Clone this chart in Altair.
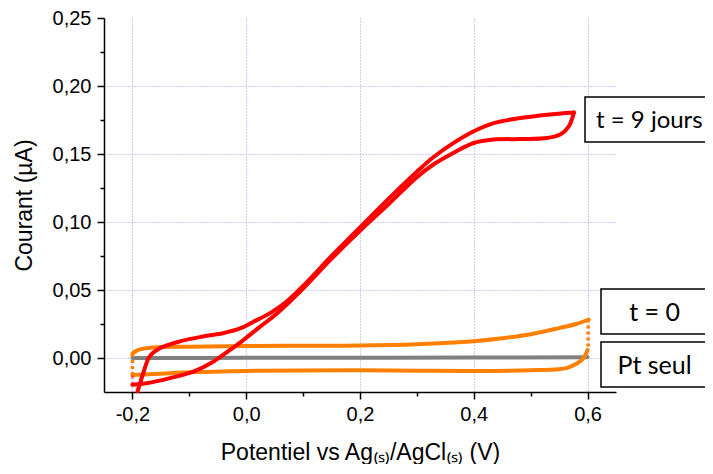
import altair as alt
import pandas as pd

# ---------------- data ----------------
red_fwd_x = [-0.191, -0.181, -0.170, -0.152, -0.117, -0.076, -0.041, -0.011, 0.012, 0.042,
             0.071, 0.100, 0.150, 0.200, 0.250, 0.300, 0.330, 0.364, 0.400, 0.435,
             0.482, 0.529, 0.576]
red_fwd_y = [-0.0245, -0.0112, 0.0010, 0.0071, 0.0122, 0.0158, 0.0182, 0.0217, 0.0265, 0.0330,
             0.0415, 0.0530, 0.0750, 0.0960, 0.1170, 0.1370, 0.1480, 0.1580, 0.1667, 0.1727,
             0.1764, 0.1789, 0.1805]

red_ret_x = [0.576, 0.567, 0.552, 0.529, 0.482, 0.435, 0.400, 0.364, 0.329, 0.300,
             0.250, 0.200, 0.150, 0.100, 0.054, 0.024, -0.005, -0.029, -0.058, -0.093,
             -0.134, -0.175, -0.200]
red_ret_y = [0.1805, 0.1703, 0.1643, 0.1618, 0.1610, 0.1606, 0.1581, 0.1508, 0.1423, 0.1330,
             0.1130, 0.0935, 0.0730, 0.0510, 0.0327, 0.0229, 0.0132, 0.0058, -0.0027, -0.0100,
             -0.0148, -0.0185, -0.0197]
red_end_x = [-0.200, -0.200]
red_end_y = [-0.0197, -0.0110]

orange_fwd_x = [-0.200, -0.196, -0.187, -0.164, -0.100, 0.000, 0.100, 0.200, 0.300, 0.400,
                0.450, 0.500, 0.550, 0.580, 0.602]
orange_fwd_y = [0.0030, 0.0046, 0.0064, 0.0078, 0.0083, 0.0088, 0.0090, 0.0092, 0.0102, 0.0124,
                0.0145, 0.0175, 0.0220, 0.0250, 0.0283]
orange_ret_x = [0.600, 0.593, 0.582, 0.564, 0.550, 0.500, 0.400, 0.300, 0.200, 0.100,
                0.000, -0.100, -0.150, -0.190, -0.200]
orange_ret_y = [0.0058, 0.0000, -0.0039, -0.0072, -0.0082, -0.0090, -0.0095, -0.0093, -0.0090, -0.0091,
                -0.0095, -0.0105, -0.0115, -0.0123, -0.0125]
orange_right_x = [0.601, 0.601]
orange_right_y = [0.0283, 0.0058]
orange_left_x = [-0.200, -0.200]
orange_left_y = [-0.0125, 0.0030]

gray_x = [-0.200, 0.000, 0.200, 0.400, 0.600]
gray_y = [0.0000, 0.0001, 0.0002, 0.0003, 0.0005]

x_ticks = [-0.2, -0.1, 0.0, 0.1, 0.2, 0.3, 0.4, 0.5, 0.6]
y_ticks = [0.0, 0.025, 0.05, 0.075, 0.1, 0.125, 0.15, 0.175, 0.2, 0.225, 0.25]
box_labels = ["t = 9 jours", "t = 0", "Pt seul"]

RED = "#ff0000"
ORANGE = "#ff8000"
GRAY = "#808080"
FONT = "Liberation Sans"

x_scale = alt.Scale(domain=[-0.25, 0.65], nice=False, zero=False)
y_scale = alt.Scale(domain=[-0.025, 0.25], nice=False, zero=False)


def frame(xs, ys):
    return pd.DataFrame({"x": xs, "y": ys, "i": list(range(len(xs)))})


minor_y = "abs(datum.value*20 - round(datum.value*20)) > 0.01"
minor_x = "abs(datum.value*5 - round(datum.value*5)) > 0.01"

x_axis = alt.Axis(
    values=x_ticks,
    title="Potentiel vs Ag₍ₛ₎/AgCl₍ₛ₎ (V)",
    labelExpr=f"{minor_x} ? '' : replace(replace(format(datum.value, '.1f'), '.', ','), '\u2212', '-')",
    grid=True,
    gridColor="#9a9aee",
    gridDash=[1, 2],
    gridWidth=1,
    gridOpacity={"condition": {"test": minor_x, "value": 0}, "value": 1},
    tickSize={"condition": {"test": minor_x, "value": 4}, "value": 7},
    tickColor="black",
    tickWidth=1.5,
    domainColor="black",
    domainWidth=1.5,
    labelFont=FONT,
    labelFontSize=20,
    labelColor="black",
    labelPadding=5,
    labelFlush=False,
    labelOverlap=False,
    titleFont=FONT,
    titleFontSize=23,
    titleFontWeight="normal",
    titleColor="black",
    titlePadding=17,
)

y_axis = alt.Axis(
    values=y_ticks,
    title="Courant (µA)",
    labelExpr=f"{minor_y} ? '' : replace(format(datum.value, '.2f'), '.', ',')",
    grid=True,
    gridColor="#9a9aee",
    gridDash=[1, 2],
    gridWidth=1,
    gridOpacity={"condition": {"test": f"{minor_y} || datum.value > 0.24", "value": 0}, "value": 1},
    tickSize={"condition": {"test": minor_y, "value": 4}, "value": 7},
    tickColor="black",
    tickWidth=1.5,
    domainColor="black",
    domainWidth=1.5,
    labelFont=FONT,
    labelFontSize=20,
    labelColor="black",
    labelPadding=6,
    labelFlush=False,
    labelOverlap=False,
    titleFont=FONT,
    titleFontSize=23,
    titleFontWeight="normal",
    titleColor="black",
    titlePadding=16,
)


def line_layer(xs, ys, color, dash=None, width=4, opacity=1.0):
    kw = dict(color=color, strokeWidth=width, interpolate="catmull-rom",
              strokeCap="round", strokeJoin="round", opacity=opacity)
    if dash:
        kw["strokeDash"] = dash
        kw["strokeCap"] = "butt"
    return alt.Chart(frame(xs, ys)).mark_line(**kw).encode(
        x=alt.X("x:Q", scale=x_scale, axis=x_axis),
        y=alt.Y("y:Q", scale=y_scale, axis=y_axis),
        order=alt.Order("i:Q"),
    )


layers = [
    line_layer(gray_x, gray_y, GRAY),
    line_layer(orange_fwd_x, orange_fwd_y, ORANGE),
    line_layer(orange_ret_x, orange_ret_y, ORANGE),
    line_layer(orange_right_x, orange_right_y, ORANGE, dash=[3, 3], width=3.5),
    line_layer(orange_left_x, orange_left_y, ORANGE, dash=[3, 3], width=3.5),
    line_layer(red_fwd_x, red_fwd_y, RED),
    line_layer(red_ret_x, red_ret_y, RED),
    line_layer(red_end_x, red_end_y, RED, dash=[3, 3], width=3.5, opacity=0.45),
]

# annotation boxes (pixel positions relative to the plot area)
boxes = [
    (box_labels[0], 481, 640, 79, 124, "left", 492, 24),
    (box_labels[1], 497, 604, 271, 316, "center", 550.5, 25),
    (box_labels[2], 497, 604, 324, 369, "center", 550.5, 25),
]
one = pd.DataFrame({"k": [0]})
for label, x1, x2, y1, y2, align, tx, fs in boxes:
    layers.append(
        alt.Chart(one).mark_rect(fill="white", stroke="black", strokeWidth=1.5).encode(
            x=alt.value(x1), x2=alt.value(x2), y=alt.value(y1), y2=alt.value(y2)
        )
    )
    layers.append(
        alt.Chart(one).mark_text(font="Lato", fontSize=fs, color="black",
                                 align=align, baseline="middle").encode(
            x=alt.value(tx), y=alt.value((y1 + y2) / 2 + 1), text=alt.value(label)
        )
    )

chart = alt.layer(*layers).properties(
    width=512,
    height=374,
    autosize=alt.AutoSizeParams(type="none"),
    padding={"left": 96, "top": 10, "right": 89, "bottom": 72},
    background="white",
).configure_view(stroke=None)

chart.save("out.html", embed_options={"renderer": "svg", "actions": False})
